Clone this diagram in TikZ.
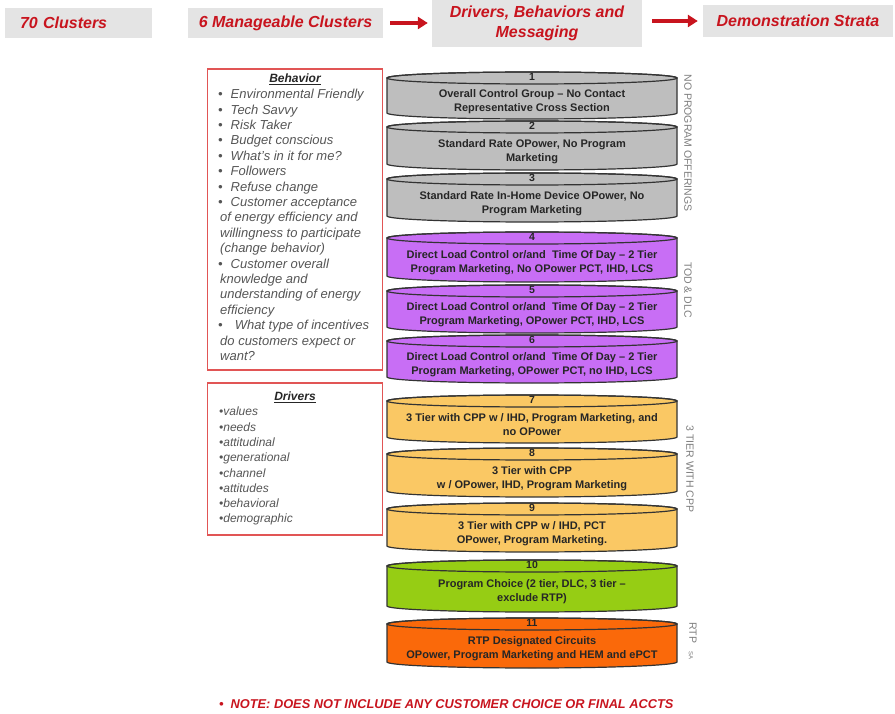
\documentclass[tikz,border=0pt]{standalone}
\usepackage{fontspec}
\setmainfont{Liberation Sans}
\usepackage{tikz}
\usetikzlibrary{shapes, arrows.meta, positioning}

\definecolor{headgray}{RGB}{228,228,228}
\definecolor{headred}{RGB}{200,20,30}
\definecolor{framered}{RGB}{225,85,85}
\definecolor{listgray}{RGB}{85,85,85}
\definecolor{sidegray}{RGB}{125,125,125}
\definecolor{diskgray}{RGB}{190,190,190}
\definecolor{diskpurple}{RGB}{200,110,245}
\definecolor{diskyellow}{RGB}{250,200,100}
\definecolor{diskgreen}{RGB}{150,205,20}
\definecolor{diskorange}{RGB}{250,105,10}

\tikzstyle{header} = [rectangle, fill=headgray, text=headred, inner sep=0pt, font=\fontsize{16}{20}\selectfont\bfseries\itshape]
\tikzstyle{redarrow} = [line width=4pt, draw=headred, -{Triangle[length=10pt,width=12pt]}]
\tikzstyle{listbox} = [rectangle, draw=framered, line width=1.3pt, minimum width=175pt]
\tikzstyle{listhead} = [inner sep=0pt, text=black!85, font=\fontsize{12}{14}\selectfont\bfseries\itshape]
\tikzstyle{listtext} = [align=left, anchor=north west, inner sep=0pt, text=listgray]
\tikzstyle{diskline} = [draw=black!80, line width=1.2pt]
\tikzstyle{disknum} = [inner sep=0pt, text=black!85, font=\fontsize{10.5}{12}\selectfont\bfseries]
\tikzstyle{disktext} = [align=center, inner sep=0pt, text=black!85, font=\fontsize{11}{14}\selectfont\bfseries]
\tikzstyle{sidelabel} = [rotate=-90, inner sep=0pt, text=sidegray, font=\fontsize{10.5}{12}\selectfont]

% name, top, bottom, colour, number, text
\newcommand{\stratum}[6]{%
  \filldraw[diskline, fill=#4] (387,-#2-6) -- (387,-#3+6) arc (180:360:145 and 6)
    -- (677,-#2-6) arc (0:180:145 and 6) -- cycle;
  \draw[diskline] (532,-#2-6) ellipse (145 and 6);
  \node (#1num) [disknum] at (532,-#2-5) {#5};
  \node (#1) [disktext] at (532,{-(#2+#3+12)/2}) {#6};
}
\newcommand{\itm}{\textbullet\hspace{8pt}}

\begin{document}
\begin{tikzpicture}[x=1pt, y=1pt]
  \useasboundingbox (0,0) rectangle (895,-714);

  % top row
  \node (seventy) [header, minimum width=147pt, minimum height=30pt, text width=117pt, align=left] at (78.5,-23) {70 Clusters};
  \node (manageable) [header, minimum width=195pt, minimum height=30pt] at (285.5,-23) {6 Manageable Clusters};
  \node (drivers) [header, minimum width=210pt, minimum height=47pt, align=center] at (537,-23.5) {Drivers, Behaviors and\\Messaging};
  \node (strata) [header, minimum width=190pt, minimum height=32pt] at (798,-21) {Demonstration Strata};
  \draw [redarrow, shorten <=7pt, shorten >=4pt] (manageable.east) -- (manageable.east -| drivers.west);
  \draw [redarrow, shorten <=10pt, shorten >=5pt] (drivers.east |- strata.west) -- (strata.west);

  % behavior and drivers lists
  \node (behavior) [listbox, minimum height=301pt] at (295,-219.5) {};
  \node (behaviortitle) [listhead] at (295,-79) {\underline{Behavior}};
  \node (behaviorlist) [listtext, font=\fontsize{13}{15.4}\selectfont\itshape] at (218,-89) {%
    \itm Environmental Friendly\\
    \itm Tech Savvy\\
    \itm Risk Taker\\
    \itm Budget  conscious\\
    \itm What's in it for me?\\
    \itm Followers\\
    \itm Refuse change\\
    \itm Customer acceptance\\
    \hspace*{2pt}of energy efficiency and\\
    \hspace*{2pt}willingness to participate\\
    \hspace*{2pt}(change behavior)\\
    \itm Customer overall\\
    \hspace*{2pt}knowledge  and\\
    \hspace*{2pt}understanding of energy\\
    \hspace*{2pt}efficiency\\
    \itm\hspace{4pt}What type of incentives\\
    \hspace*{2pt}do customers expect or\\
    \hspace*{2pt}want?};

  \node (driversbox) [listbox, minimum height=152pt] at (295,-459) {};
  \node (driverstitle) [listhead] at (295,-397) {\underline{Drivers}};
  \node (driverslist) [listtext, font=\fontsize{12}{15.3}\selectfont\itshape] at (219,-407) {%
    \textbullet values\\
    \textbullet needs\\
    \textbullet attitudinal\\
    \textbullet generational\\
    \textbullet channel\\
    \textbullet attitudes\\
    \textbullet behavioral\\
    \textbullet demographic};

  % strata
  \stratum{s1}{72}{119}{diskgray}{1}{Overall Control Group -- No Contact\\Representative Cross Section}
  \stratum{s2}{121}{170}{diskgray}{2}{Standard Rate OPower, No Program\\Marketing}
  \stratum{s3}{173}{222}{diskgray}{3}{Standard Rate In-Home Device OPower, No\\Program Marketing}
  \stratum{s4}{232}{282}{diskpurple}{4}{Direct Load Control or/and\ \ Time Of Day -- 2 Tier\\Program Marketing, No OPower PCT, IHD, LCS}
  \stratum{s5}{285}{333}{diskpurple}{5}{Direct Load Control or/and\ \ Time Of Day -- 2 Tier\\Program Marketing, OPower PCT, IHD, LCS}
  \stratum{s6}{335}{383}{diskpurple}{6}{Direct Load Control or/and\ \ Time Of Day -- 2 Tier\\Program Marketing, OPower PCT, no IHD, LCS}
  \stratum{s7}{395}{443}{diskyellow}{7}{3 Tier with CPP w / IHD, Program Marketing, and\\no OPower}
  \stratum{s8}{448}{497}{diskyellow}{8}{3 Tier with CPP\\w / OPower, IHD, Program Marketing}
  \stratum{s9}{503}{552}{diskyellow}{9}{3 Tier with CPP w / IHD, PCT\\OPower, Program Marketing.}
  \stratum{s10}{560}{612}{diskgreen}{10}{Program Choice (2 tier, DLC, 3 tier --\\exclude RTP)}
  \stratum{s11}{618}{668}{diskorange}{11}{RTP Designated Circuits\\OPower, Program Marketing and HEM and ePCT}

  % side labels
  \node (sideno) [sidelabel] at (688,-143) {NO PROGRAM OFFERINGS};
  \node (sidetod) [sidelabel] at (688,-290) {TOD \& DLC};
  \node (sidetier) [sidelabel] at (690,-469) {3 TIER WITH CPP};
  \node (sidertp) [sidelabel] at (693,-633) {RTP};
  \node (sidesa) [sidelabel, font=\fontsize{6}{7}\selectfont] at (691,-655) {SA};

  % note
  \node (note) [anchor=west, inner sep=0pt, text=headred, font=\fontsize{12.8}{14}\selectfont\bfseries\itshape] at (219,-704) {\textbullet\hspace{7pt}NOTE: DOES NOT INCLUDE ANY CUSTOMER CHOICE OR FINAL ACCTS};
\end{tikzpicture}
\end{document}
